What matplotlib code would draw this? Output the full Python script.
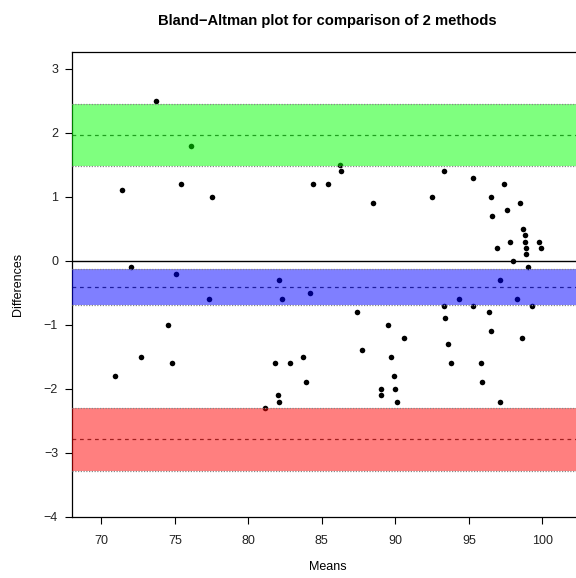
"""
Bland-Altman plot: differences vs means for two measurement methods,
with the mean bias and limits of agreement shown as confidence bands.
"""

import matplotlib
matplotlib.use("Agg")
import matplotlib.pyplot as plt

plt.rcParams['font.family'] = ['Liberation Sans', 'DejaVu Sans']

# means of the two methods (x) and their differences (y)
means = [73.7, 76.1, 71.4, 75.4, 77.5, 72.0, 75.1,
         86.2, 86.3, 84.4, 85.4, 88.5, 82.1,
         93.3, 95.3, 97.4, 92.5, 96.5, 98.5, 96.6, 97.6,
         98.7, 98.8, 98.8, 98.9, 98.9, 96.9, 97.8, 99.8, 99.9, 98.0, 99.0, 97.1,
         77.3, 74.5, 72.7, 74.8, 70.9,
         82.3, 84.2, 87.4, 89.5, 90.6, 87.7, 81.8, 82.8, 83.7, 83.9,
         89.7, 89.9, 90.0, 89.0, 89.0, 90.1, 82.0, 82.1, 81.1,
         94.3, 98.3, 93.3, 95.3, 99.3, 96.4, 93.4, 96.5, 98.6, 93.6, 93.8,
         95.8, 95.9, 97.1]
diffs = [2.5, 1.8, 1.1, 1.2, 1.0, -0.1, -0.2,
         1.5, 1.4, 1.2, 1.2, 0.9, -0.3,
         1.4, 1.3, 1.2, 1.0, 1.0, 0.9, 0.7, 0.8,
         0.5, 0.4, 0.3, 0.2, 0.1, 0.2, 0.3, 0.3, 0.2, 0.0, -0.1, -0.3,
         -0.6, -1.0, -1.5, -1.6, -1.8,
         -0.6, -0.5, -0.8, -1.0, -1.2, -1.4, -1.6, -1.6, -1.5, -1.9,
         -1.5, -1.8, -2.0, -2.0, -2.1, -2.2, -2.1, -2.2, -2.3,
         -0.6, -0.6, -0.7, -0.7, -0.7, -0.8, -0.9, -1.1, -1.2, -1.3, -1.6,
         -1.6, -1.9, -2.2]

# bias and limits of agreement with their confidence intervals
upper_loa = 1.97
upper_ci = (1.475, 2.455)
bias = -0.41
bias_ci = (-0.69, -0.125)
lower_loa = -2.79
lower_ci = (-3.28, -2.30)

fig = plt.figure(figsize=(5.76, 5.78), dpi=100)
ax = fig.add_axes([0.125, 0.105, 0.888, 0.8045])

ax.plot(means, diffs, 'o', color='black', ms=4, mec='none', zorder=2)

# reference line at zero
ax.axhline(0, color='black', lw=1.0, zorder=1)

# dashed center lines, then translucent bands on top of the points
for level in (upper_loa, bias, lower_loa):
    ax.axhline(level, color='#404040', lw=0.9, ls=(0, (3, 3)), zorder=2.5)
for (lo, hi), col in ((upper_ci, (0, 1, 0)), (bias_ci, (0, 0, 1)), (lower_ci, (1, 0, 0))):
    ax.axhspan(lo, hi, color=col, alpha=0.5, lw=0, zorder=3)
    for edge in (lo, hi):
        ax.axhline(edge, color='#888888', lw=0.9, ls=(0, (1, 1.2)), zorder=3.5)

ax.set_xlim(68.0, 102.8)
ax.set_ylim(-4.01, 3.26)
ax.set_xticks([70, 75, 80, 85, 90, 95, 100])
ax.set_yticks(range(-4, 4))
ax.tick_params(direction='out', length=5, width=0.8, labelsize=9, pad=5,
               labelcolor='#222222')
ax.tick_params(axis='x', pad=8)
for side in ('left', 'bottom', 'top'):
    ax.spines[side].set_linewidth(0.9)
ax.spines['right'].set_visible(False)

ax.set_xlabel('Means', fontsize=9)
ax.xaxis.set_label_coords(0.5, -0.094)
ax.set_ylabel('Differences', fontsize=9)
ax.yaxis.set_label_coords(-0.094, 0.5)

fig.text((72 + 583.4) / 2 / 576, 1 - 21 / 578,
         'Bland\u2212Altman plot for comparison of 2 methods',
         ha='center', va='center', fontsize=10.6, fontweight='bold')

fig.savefig('out.png', dpi=100)
